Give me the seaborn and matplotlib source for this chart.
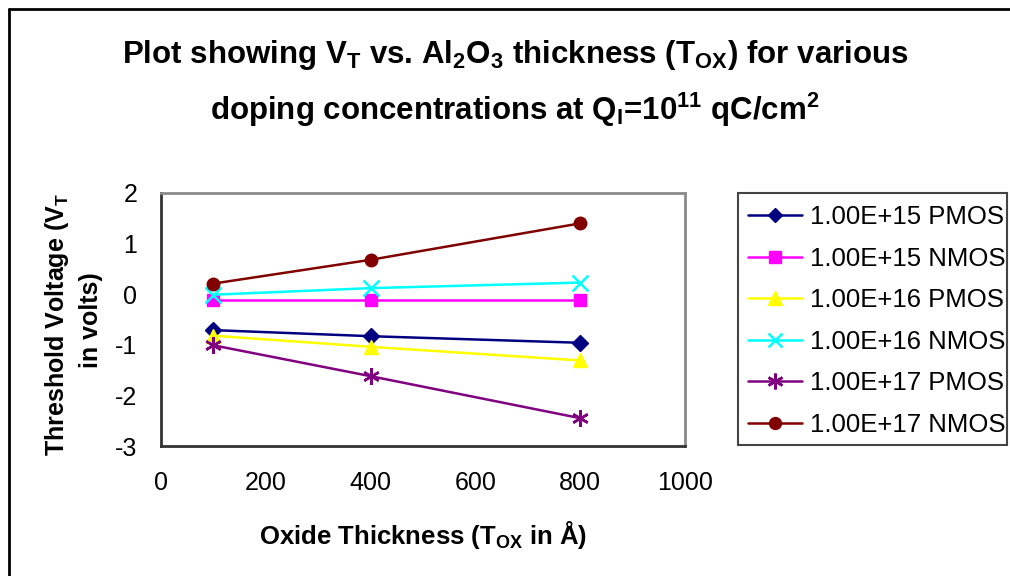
import matplotlib
matplotlib.use("Agg")
import matplotlib.pyplot as plt
import matplotlib.lines as mlines
import matplotlib.patches as mpatches
import seaborn as sns
import pandas as pd

# Oxide thickness (Å) and threshold voltage (V) per doping / device type
thickness = [100, 400, 800]
series_names = [
    "1.00E+15 PMOS",
    "1.00E+15 NMOS",
    "1.00E+16 PMOS",
    "1.00E+16 NMOS",
    "1.00E+17 PMOS",
    "1.00E+17 NMOS",
]
vt_15_pmos = [-0.71, -0.83, -0.96]
vt_15_nmos = [-0.12, -0.12, -0.12]
vt_16_pmos = [-0.82, -1.04, -1.31]
vt_16_nmos = [-0.01, 0.12, 0.23]
vt_17_pmos = [-1.01, -1.62, -2.45]
vt_17_nmos = [0.21, 0.68, 1.40]
x_ticks = [0, 200, 400, 600, 800, 1000]
y_ticks = [-3, -2, -1, 0, 1, 2]

all_values = [vt_15_pmos, vt_15_nmos, vt_16_pmos, vt_16_nmos, vt_17_pmos, vt_17_nmos]
rows = []
for name, vals in zip(series_names, all_values):
    for t, v in zip(thickness, vals):
        rows.append({"Tox": t, "VT": v, "series": name})
df = pd.DataFrame(rows)

colors = ["#000080", "#FF00FF", "#FFFF00", "#00FFFF", "#800080", "#800000"]
markers = ["D", "s", "^", "x", (6, 2, 0), "o"]
msizes = [8, 8.5, 10.5, 11, 12, 9]
line_art = [False, False, False, True, True, False]

sns.set_style("white")
plt.rcParams["font.family"] = ["Liberation Sans", "DejaVu Sans"]
plt.rcParams["text.color"] = "black"
plt.rcParams["axes.unicode_minus"] = False
plt.rcParams["mathtext.fontset"] = "custom"
plt.rcParams["mathtext.rm"] = "Liberation Sans:bold"
plt.rcParams["mathtext.it"] = "Liberation Sans:bold"
plt.rcParams["mathtext.bf"] = "Liberation Sans:bold"

W, H = 1010, 576
fig = plt.figure(figsize=(W / 100, H / 100), dpi=100)

# chart-area border (top and left edges)
fig.add_artist(mlines.Line2D([9 / W, 9 / W], [0, 1 - 9 / H], color="black", lw=2,
                             transform=fig.transFigure))
fig.add_artist(mlines.Line2D([9 / W, 1], [1 - 9 / H, 1 - 9 / H], color="black", lw=2,
                             transform=fig.transFigure))

ax = fig.add_axes([161 / W, 1 - 446 / H, 524 / W, 253 / H])
for name, c, m, ms, la in zip(series_names, colors, markers, msizes, line_art):
    sub = df[df["series"] == name]
    sns.lineplot(data=sub, x="Tox", y="VT", color=c, marker=m, markersize=ms,
                 markerfacecolor=c, markeredgecolor=c,
                 markeredgewidth=1.8 if la else 1.0,
                 linewidth=1.8, legend=False, ax=ax)

ax.set_xlim(0, 1000)
ax.set_ylim(-3, 2)
ax.set_xticks(x_ticks)
ax.set_yticks(y_ticks)
ax.tick_params(axis="both", direction="out", length=5, width=1.5, labelsize=18,
               colors="black")
ax.tick_params(axis="x", pad=13)
ax.tick_params(axis="y", pad=12)
for side in ("left", "bottom"):
    ax.spines[side].set_color("#333333")
    ax.spines[side].set_linewidth(2)
for side in ("top", "right"):
    ax.spines[side].set_color("#8a8a8a")
    ax.spines[side].set_linewidth(2)

ax.set_xlabel("")
ax.set_ylabel("")

fig.text(423 / W, 1 - 535 / H, r"Oxide Thickness (T$_{\mathrm{OX}}$ in Å)",
         ha="center", va="center", fontsize=18.5, fontweight="bold")
fig.text(57 / W, 1 - 325 / H, r"Threshold Voltage (V$_{\mathrm{T}}$",
         ha="center", va="center", rotation=90, fontsize=18, fontweight="bold")
fig.text(91 / W, 1 - 320 / H, "in volts)",
         ha="center", va="center", rotation=90, fontsize=18, fontweight="bold")

fig.text(515 / W, 1 - 55 / H,
         r"Plot showing V$_{\mathrm{T}}$ vs. Al$_2$O$_3$ thickness (T$_{\mathrm{OX}}$) for various",
         ha="center", va="center", fontsize=22.5, fontweight="bold")
fig.text(515 / W, 1 - 110 / H,
         r"doping concentrations at Q$_{\mathrm{I}}$=10$^{11}$ qC/cm$^{2}$",
         ha="center", va="center", fontsize=22.5, fontweight="bold")

# legend box
fig.add_artist(mpatches.Rectangle((738 / W, 1 - 445 / H), 269 / W, 252 / H,
                                  transform=fig.transFigure, fill=False,
                                  edgecolor="#444444", linewidth=1.5))
handles = [mlines.Line2D([], [], color=c, marker=m, markersize=ms,
                         markerfacecolor=c, markeredgecolor=c, lw=1.8,
                         markeredgewidth=1.8 if la else 1.0)
           for c, m, ms, la in zip(colors, markers, msizes, line_art)]
leg = fig.legend(handles, series_names, loc="upper left",
                 bbox_to_anchor=(738 / W, 1 - 195 / H), fontsize=18.5,
                 frameon=False, handlelength=2.1, handletextpad=0.3,
                 labelspacing=0.68, borderpad=0.4, borderaxespad=0,
                 markerscale=0.95)

fig.savefig("out.png", dpi=100, facecolor="white")
